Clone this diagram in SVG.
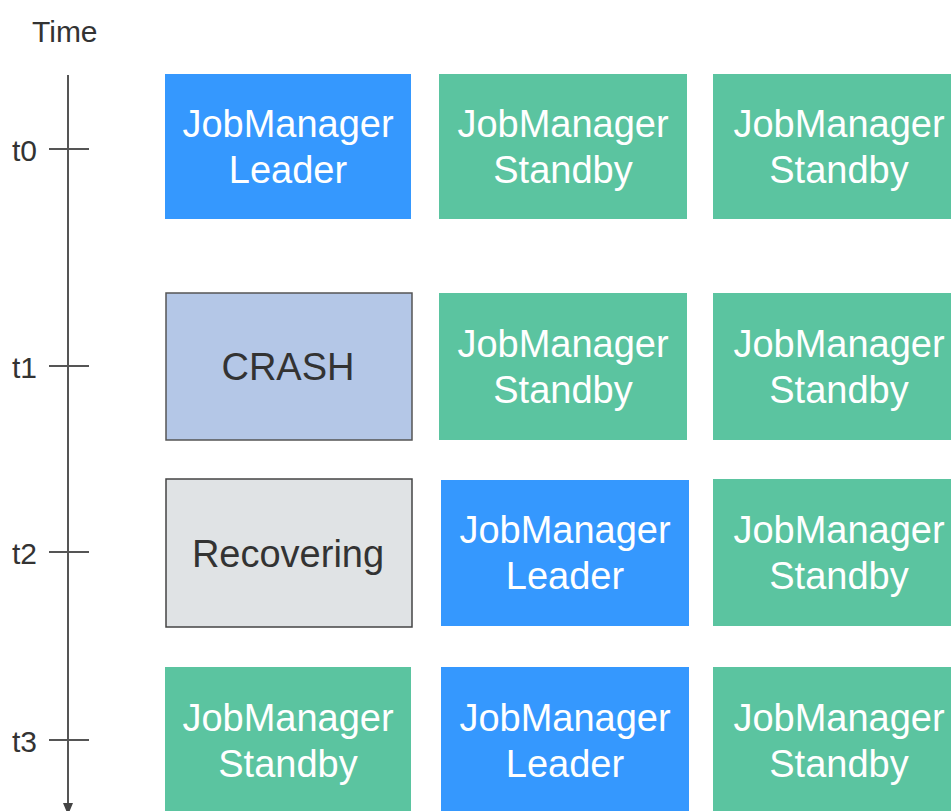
<svg xmlns="http://www.w3.org/2000/svg" width="951" height="811" viewBox="0 0 951 811">
<style>
  .lbl { font-family: "Liberation Sans", Arial, sans-serif; font-size: 30px; fill: #333; }
  .box text { font-family: "Liberation Sans", Arial, sans-serif; font-size: 38px; text-anchor: middle; }
  .leader rect { fill: #3598FE; }
  .standby rect { fill: #5BC4A0; }
  .leader text, .standby text { fill: #FFFFFF; }
  .crash rect { fill: #B4C7E7; stroke: #555; stroke-width: 1.5; }
  .recov rect { fill: #E0E3E5; stroke: #444; stroke-width: 1.5; }
  .crash text, .recov text { fill: #333; }
  .axis { stroke: #555; stroke-width: 2; fill: none; }
</style>
<rect width="951" height="811" fill="#FFFFFF"/>
<g id="axis">
  <text class="lbl" x="32" y="42">Time</text>
  <line class="axis" x1="68" y1="75" x2="68" y2="806"/>
  <polygon points="63,803 73,803 68,815" fill="#444"/>
  <line class="axis" x1="49" y1="149" x2="89" y2="149"/>
  <line class="axis" x1="49" y1="366" x2="89" y2="366"/>
  <line class="axis" x1="49" y1="552" x2="89" y2="552"/>
  <line class="axis" x1="49" y1="740" x2="89" y2="740"/>
  <text class="lbl" x="12" y="161">t0</text>
  <text class="lbl" x="12" y="378">t1</text>
  <text class="lbl" x="12" y="564">t2</text>
  <text class="lbl" x="12" y="752">t3</text>
</g>
<g id="connectors"></g>
<!-- row t0 -->
<g id="r0c0" class="box leader"><rect x="165" y="74" width="246" height="145"/><text x="288" y="137">JobManager</text><text x="288" y="183">Leader</text></g>
<g id="r0c1" class="box standby"><rect x="439" y="74" width="248" height="145"/><text x="563" y="137">JobManager</text><text x="563" y="183">Standby</text></g>
<g id="r0c2" class="box standby"><rect x="713" y="74" width="250" height="145"/><text x="839" y="137">JobManager</text><text x="839" y="183">Standby</text></g>
<!-- row t1 -->
<g id="r1c0" class="box crash"><rect x="166" y="293" width="246" height="147"/><text x="288" y="380">CRASH</text></g>
<g id="r1c1" class="box standby"><rect x="439" y="293" width="248" height="147"/><text x="563" y="357">JobManager</text><text x="563" y="403">Standby</text></g>
<g id="r1c2" class="box standby"><rect x="713" y="293" width="250" height="147"/><text x="839" y="357">JobManager</text><text x="839" y="403">Standby</text></g>
<!-- row t2 -->
<g id="r2c0" class="box recov"><rect x="166" y="479" width="246" height="148"/><text x="288" y="567">Recovering</text></g>
<g id="r2c1" class="box leader"><rect x="441" y="480" width="248" height="146"/><text x="565" y="543">JobManager</text><text x="565" y="589">Leader</text></g>
<g id="r2c2" class="box standby"><rect x="713" y="479" width="250" height="147"/><text x="839" y="543">JobManager</text><text x="839" y="589">Standby</text></g>
<!-- row t3 -->
<g id="r3c0" class="box standby"><rect x="165" y="667" width="246" height="150"/><text x="288" y="731">JobManager</text><text x="288" y="777">Standby</text></g>
<g id="r3c1" class="box leader"><rect x="441" y="667" width="248" height="150"/><text x="565" y="731">JobManager</text><text x="565" y="777">Leader</text></g>
<g id="r3c2" class="box standby"><rect x="713" y="667" width="250" height="150"/><text x="839" y="731">JobManager</text><text x="839" y="777">Standby</text></g>
</svg>
